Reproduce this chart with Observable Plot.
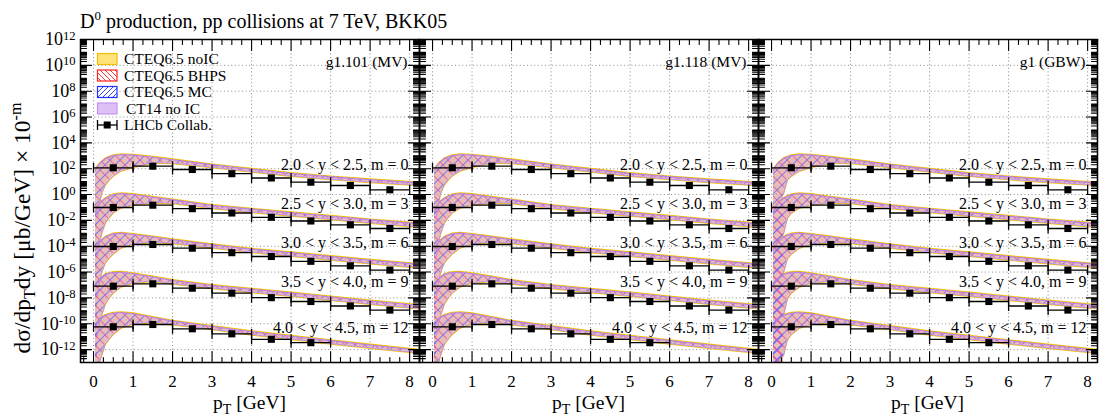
<!DOCTYPE html>
<html>
<head>
<meta charset="utf-8">
<script src="https://cdn.jsdelivr.net/npm/d3@7"></script>
<script src="https://cdn.jsdelivr.net/npm/@observablehq/plot@0.6"></script>
<style>
  html, body { margin: 0; padding: 0; background: #fff; }
  #chart { position: relative; width: 1120px; height: 420px; overflow: hidden; font-family: "Liberation Serif", "Times New Roman", serif; }
  .panel { position: absolute; top: 0; }
  #overlay { position: absolute; left: 0; top: 0; pointer-events: none; }
</style>
</head>
<body>
<div id="chart"></div>
<script>
// ---------------- data ----------------
const chartTitleMain = "D";
const chartTitleSup = "0";
const chartTitleRest = " production, pp collisions at 7 TeV, BKK05";
const panelNames = ["g1.101 (MV)", "g1.118 (MV)", "g1 (GBW)"];
const panelModels = ["MV", "MV", "GBW"];
const seriesNames = ["CTEQ6.5 noIC", "CTEQ6.5 BHPS", "CTEQ6.5 MC", "CT14 no IC", "LHCb Collab."];
const rapidityBins = ["2.0 < y < 2.5", "2.5 < y < 3.0", "3.0 < y < 3.5", "3.5 < y < 4.0", "4.0 < y < 4.5"];
const mValues = [0, 3, 6, 9, 12];

// LHCb measurement, dσ/dpT dy in μb/GeV, pT bins [low, high)
const ptBinLow  = [0, 1, 2, 3, 4, 5, 6, 7];
const ptBinHigh = [1, 2, 3, 4, 5, 6, 7, 8];
const lhcbY20 = [117.5, 156, 86.7, 41.0, 19.1, 9.0, 5.0, 2.33];
const lhcbY25 = [99.3, 150, 80.2, 37.2, 17.3, 8.95, 4.55, 2.35];
const lhcbY30 = [95, 136, 70.3, 31.5, 16.0, 6.8, 3.05, 1.42];
const lhcbY35 = [80.5, 123, 56.4, 23.1, 10.4, 5.26, 2.36, 1.14];
const lhcbY40 = [58, 87.3, 40.6, 16.6, 6.25, 3.41];
const lhcbRows = [lhcbY20, lhcbY25, lhcbY30, lhcbY35, lhcbY40];

// theory bands, log10 of dσ/dpT dy [μb/GeV] sampled on ptGrid
const ptGrid = [0.05, 0.1, 0.15, 0.2, 0.3, 0.4, 0.5, 0.7, 1, 1.5, 2, 3, 4, 5, 6, 7, 8.4];
const mvUpperLog = [
  [1.86, 2.17, 2.36, 2.52, 2.77, 2.90, 3.00, 3.08, 3.05, 2.89, 2.69, 2.30, 1.96, 1.63, 1.37, 1.15, 0.87],
  [1.63, 2.07, 2.28, 2.46, 2.69, 2.85, 2.98, 3.06, 3.00, 2.79, 2.59, 2.15, 1.87, 1.59, 1.32, 1.04, 0.70],
  [1.67, 2.06, 2.29, 2.44, 2.70, 2.84, 2.95, 3.01, 2.91, 2.71, 2.50, 2.11, 1.77, 1.49, 1.20, 0.91, 0.55],
  [1.88, 2.27, 2.46, 2.58, 2.81, 2.90, 2.97, 2.99, 2.87, 2.62, 2.35, 1.96, 1.67, 1.38, 1.07, 0.76, 0.37],
  [1.63, 2.10, 2.37, 2.48, 2.64, 2.74, 2.81, 2.85, 2.77, 2.48, 2.20, 1.79, 1.38, 1.03, 0.69, 0.35, -0.11]
];
const mvLowerLog = [
  [-80, -1.75, -0.69, 0.08, 0.78, 1.17, 1.47, 1.86, 2.13, 2.47, 2.44, 2.12, 1.78, 1.45, 1.19, 0.97, 0.70],
  [-80, -1.72, -0.71, -0.04, 0.84, 1.27, 1.61, 2.00, 2.23, 2.38, 2.35, 1.96, 1.65, 1.38, 1.10, 0.82, 0.47],
  [-80, -1.81, -0.73, -0.03, 0.74, 1.12, 1.44, 1.90, 2.19, 2.33, 2.25, 1.90, 1.55, 1.26, 0.97, 0.68, 0.31],
  [-80, -1.91, -0.90, -0.36, 0.57, 1.03, 1.42, 1.88, 2.19, 2.31, 2.11, 1.77, 1.46, 1.16, 0.85, 0.54, 0.14],
  [-80, -2.01, -1.00, -0.46, 0.45, 0.85, 1.22, 1.71, 2.00, 2.13, 1.96, 1.58, 1.17, 0.82, 0.47, 0.14, -0.30]
];
const gbwLowerLog = [
  [-80, -80, -80, -80, 0.08, 1.16, 1.45, 1.84, 2.12, 2.47, 2.44, 2.12, 1.78, 1.45, 1.19, 0.97, 0.70],
  [-80, -80, -80, -80, -0.04, 1.20, 1.58, 1.98, 2.22, 2.38, 2.35, 1.96, 1.65, 1.38, 1.10, 0.82, 0.47],
  [-80, -80, -80, -80, -0.03, 1.05, 1.42, 1.88, 2.18, 2.33, 2.25, 1.90, 1.55, 1.26, 0.97, 0.68, 0.31],
  [-80, -80, -80, -80, -0.36, 0.95, 1.40, 1.86, 2.18, 2.31, 2.11, 1.77, 1.46, 1.16, 0.85, 0.54, 0.14],
  [-80, -80, -80, -80, -0.46, 0.78, 1.20, 1.69, 1.99, 2.13, 1.96, 1.58, 1.17, 0.82, 0.47, 0.14, -0.30]
];

// axis ticks
const xTickLabels = [0, 1, 2, 3, 4, 5, 6, 7, 8];
const yLabelExponents = [-12, -10, -8, -6, -4, -2, 0, 2, 4, 6, 8, 10, 12];

// ---------------- layout / helpers ----------------
const chart = document.getElementById("chart");
const frames = [[80, 419], [419, 758], [758, 1097]];
const svgBoxes = [{left: 0, width: 430}, {left: 408, width: 362}, {left: 747, width: 373}];
const TOP = 39, BOTTOM = 362, H = 420;
const xDomain = [-0.33, 8.25];
const yDomain = [1e-13, 1e12];
const serif = "'Liberation Serif', 'Times New Roman', serif";

const tickShape = {draw(ctx, l) { ctx.moveTo(0, 0); ctx.lineTo(0, -l); }};
const capSymbol = {draw(ctx, size) { const h = Math.sqrt(size / Math.PI); ctx.moveTo(0, -h); ctx.lineTo(0, h); }};

const xMinorTicks = d3.range(-4, 34).map(i => i * 0.25).filter(v => v % 1 !== 0 && v >= xDomain[0] && v <= xDomain[1]);
const yMajorTicks = yLabelExponents.map(e => 10 ** e);
const yMinorTicks = [];
for (let k = -13; k <= 11; k++) for (let j = 1; j <= 9; j++) {
  if (j === 1 && k % 2 === 0) continue;
  yMinorTicks.push(j * 10 ** k);
}
const yGridVals = yLabelExponents.filter(e => e < 12).map(e => 10 ** e);

const lhcb = [];
lhcbRows.forEach((row, r) => row.forEach((v, j) => lhcb.push({
  row: r, lo: ptBinLow[j], hi: ptBinHigh[j], pt: (ptBinLow[j] + ptBinHigh[j]) / 2, v: v * 10 ** (-mValues[r])
})));

const labelLevels = [211, 190, 170, 166, 45]; // annotation anchors (σ units before 10^-m)
const rowLabels = rapidityBins.map((b, r) => ({text: `${b}, m = ${mValues[r]}`, y: labelLevels[r] * 10 ** (-mValues[r])}));

function tickMarks() {
  const base = {shape: tickShape, anchor: "start", stroke: "black", strokeWidth: 1.1};
  return [
    Plot.vector(xTickLabels, {...base, x: d => d, frameAnchor: "bottom", rotate: 0, length: 11}),
    Plot.vector(xMinorTicks, {...base, x: d => d, frameAnchor: "bottom", rotate: 0, length: 5}),
    Plot.vector(xTickLabels, {...base, x: d => d, frameAnchor: "top", rotate: 180, length: 11}),
    Plot.vector(xMinorTicks, {...base, x: d => d, frameAnchor: "top", rotate: 180, length: 5}),
    Plot.vector(yMajorTicks, {...base, y: d => d, frameAnchor: "left", rotate: 90, length: 11}),
    Plot.vector(yMinorTicks, {...base, y: d => d, frameAnchor: "left", rotate: 90, length: 6}),
    Plot.vector(yMajorTicks, {...base, y: d => d, frameAnchor: "right", rotate: -90, length: 11}),
    Plot.vector(yMinorTicks, {...base, y: d => d, frameAnchor: "right", rotate: -90, length: 6})
  ];
}

function makePanel(i) {
  const lowerLog = panelModels[i] === "GBW" ? gbwLowerLog : mvLowerLog;
  const band = [];
  mValues.forEach((m, r) => ptGrid.forEach((pt, j) => band.push({
    row: r, pt, loLog: lowerLog[r][j], lo: 10 ** (lowerLog[r][j] - m), hi: 10 ** (mvUpperLog[r][j] - m)
  })));
  const lowerEdge = band.filter(d => d.loLog > -20);
  const areaBase = {x: "pt", y1: "lo", y2: "hi", z: "row", clip: true};
  const [fl, fr] = frames[i];
  const box = svgBoxes[i];
  const marks = [
    Plot.gridX(xTickLabels, {stroke: "#8a8a8a", strokeOpacity: 1, strokeWidth: 1, strokeDasharray: "1,2.6"}),
    Plot.gridY(yGridVals, {stroke: "#8a8a8a", strokeOpacity: 1, strokeWidth: 1, strokeDasharray: "1,2.6"}),
    // CTEQ6.5 noIC (yellow)
    Plot.areaY(band, {...areaBase, fill: "#ffcf40"}),
    Plot.line(band, {x: "pt", y: "hi", z: "row", stroke: "#f5c000", strokeWidth: 1.3, dy: -0.8, clip: true}),
    Plot.line(lowerEdge, {x: "pt", y: "lo", z: "row", stroke: "#f5c000", strokeWidth: 1.2, dy: 0.6, clip: true}),
    // CTEQ6.5 BHPS (red hatch), CTEQ6.5 MC (blue hatch)
    Plot.areaY(band, {...areaBase, fill: "url(#hatchRed)"}),
    Plot.areaY(band, {...areaBase, fill: "url(#hatchBlue)"}),
    // CT14 no IC (violet)
    Plot.areaY(band, {...areaBase, fill: "#c68ae6"}),
    Plot.line(band, {x: "pt", y: "hi", z: "row", stroke: "#b980f0", strokeWidth: 1.1, clip: true}),
    Plot.line(lowerEdge, {x: "pt", y: "lo", z: "row", stroke: "#c090f0", strokeWidth: 1, clip: true}),
    // LHCb data
    Plot.ruleY(lhcb, {y: "v", x1: "lo", x2: "hi", stroke: "black", strokeWidth: 1.3}),
    Plot.dot(lhcb, {x: "lo", y: "v", symbol: capSymbol, r: 5, fill: "none", stroke: "black", strokeWidth: 1.3}),
    Plot.dot(lhcb, {x: "hi", y: "v", symbol: capSymbol, r: 5, fill: "none", stroke: "black", strokeWidth: 1.3}),
    Plot.dot(lhcb, {x: "pt", y: "v", symbol: "square", r: 4, fill: "black"}),
    Plot.text(rowLabels, {y: "y", text: "text", frameAnchor: "right", textAnchor: "end", lineAnchor: "middle", dx: -11, fontSize: 16, fill: "black"}),
    Plot.text([panelNames[i]], {text: d => d, frameAnchor: "top-right", textAnchor: "end", lineAnchor: "middle", dx: -12, dy: 23, fontSize: 15.5, fill: "black"}),
    ...tickMarks(),
    Plot.frame({stroke: "black", strokeWidth: 1.5}),
    Plot.axisX(xTickLabels, {anchor: "bottom", tickSize: 0, tickPadding: 12, fontSize: 17, tickFormat: d => String(d)})
  ];
  if (i === 0) {
    marks.push(Plot.axisY(yMajorTicks, {anchor: "left", tickSize: 0, tickPadding: 5, fontSize: 18,
      tickFormat: d => "10^" + Math.round(Math.log10(d))}));
  }
  const svg = Plot.plot({
    width: box.width, height: H,
    marginLeft: fl - box.left, marginRight: box.left + box.width - fr,
    marginTop: TOP, marginBottom: H - BOTTOM,
    x: {domain: xDomain},
    y: {type: "log", domain: yDomain, axis: null},
    style: {background: "transparent", overflow: "visible", fontFamily: serif, fontSize: "15px", color: "black"},
    marks
  });
  // group-level transparency so overlapping rows do not compound (as in the reference)
  const groupOpacity = [0.55, 1, 1, 0.42];
  svg.querySelectorAll('g[aria-label="area"]').forEach((g, k) => {
    g.setAttribute("opacity", groupOpacity[k] ?? 1);
  });
  if (i === 0) {
    d3.select(svg).selectAll('g[aria-label="y-axis tick label"] text').each(function () {
      const s = this.textContent;
      const parts = s.split("^");
      if (parts.length !== 2) return;
      const t = d3.select(this);
      t.text(null);
      t.append("tspan").text(parts[0]);
      t.append("tspan").attr("dy", "-0.45em").attr("font-size", "0.7em").text(parts[1]);
    });
  }
  const div = document.createElement("div");
  div.className = "panel";
  div.style.left = box.left + "px";
  div.style.width = box.width + "px";
  div.appendChild(svg);
  chart.appendChild(div);
}

[0, 1, 2].forEach(makePanel);

// ---------------- overlay: patterns, titles, legend ----------------
const ov = d3.select(chart).append("svg").attr("id", "overlay").attr("width", 1120).attr("height", 420)
  .attr("font-family", serif);
const defs = ov.append("defs");
function hatch(id, d, color, size, width, opacity) {
  const p = defs.append("pattern").attr("id", id).attr("patternUnits", "userSpaceOnUse").attr("width", size).attr("height", size);
  p.append("path").attr("d", d).attr("stroke", color).attr("stroke-width", width).attr("stroke-opacity", opacity).attr("fill", "none");
}
hatch("hatchRed", "M-1,-1 L11,11 M-1,9 L1,11 M9,-1 L11,1", "#ff2a6a", 10, 1.1, 0.75);
hatch("hatchBlue", "M-1,11 L11,-1 M-1,1 L1,-1 M9,11 L11,9", "#3a50ff", 10, 1.1, 0.8);
hatch("legRed", "M-1,-1 L6,6 M-1,4 L1,6 M4,-1 L6,1", "#ff2020", 5, 0.9, 1);
hatch("legBlue", "M-1,6 L6,-1 M-1,1 L1,-1 M4,6 L6,4", "#2030ff", 5, 0.9, 1);

// title
const tt = ov.append("text").attr("x", 80).attr("y", 28).attr("font-size", 20);
tt.append("tspan").text(chartTitleMain);
tt.append("tspan").attr("dy", -8).attr("font-size", 13).text(chartTitleSup);
tt.append("tspan").attr("dy", 8).text(chartTitleRest);

// y axis title
const yt = ov.append("text").attr("transform", "translate(30,228) rotate(-90)").attr("text-anchor", "middle").attr("font-size", 23.5);
yt.append("tspan").text("dσ/dp");
yt.append("tspan").attr("dy", 5).attr("font-size", 16).text("T");
yt.append("tspan").attr("dy", -5).text("dy [μb/GeV] × 10");
yt.append("tspan").attr("dy", -9).attr("font-size", 16).text("-m");

// x axis titles
frames.forEach(([a, b]) => {
  const t = ov.append("text").attr("x", (a + b) / 2).attr("y", 409).attr("text-anchor", "middle").attr("font-size", 19.5);
  t.append("tspan").text("p");
  t.append("tspan").attr("dy", 5).attr("font-size", 14).text("T");
  t.append("tspan").attr("dy", -5).text(" [GeV]");
});

// legend
const legY = [59, 75.5, 92, 108.5, 125];
const legStyles = [
  {fill: "#ffe27a", stroke: "#f0c000"},
  {fill: "url(#legRed)", stroke: "#ff2020"},
  {fill: "url(#legBlue)", stroke: "#2030ff"},
  {fill: "#dfc0f6", stroke: "#c594f2"}
];
seriesNames.forEach((name, k) => {
  const cy = legY[k];
  if (k < 4) {
    ov.append("rect").attr("x", 97.5).attr("y", cy - 5.5).attr("width", 19.5).attr("height", 11)
      .attr("fill", "#fff");
    ov.append("rect").attr("x", 97.5).attr("y", cy - 5.5).attr("width", 19.5).attr("height", 11)
      .attr("fill", legStyles[k].fill).attr("stroke", legStyles[k].stroke).attr("stroke-width", 1.2);
  } else {
    ov.append("line").attr("x1", 97.5).attr("x2", 117).attr("y1", cy).attr("y2", cy).attr("stroke", "black").attr("stroke-width", 1.3);
    ov.append("line").attr("x1", 97.5).attr("x2", 97.5).attr("y1", cy - 5).attr("y2", cy + 5).attr("stroke", "black").attr("stroke-width", 1.3);
    ov.append("line").attr("x1", 117).attr("x2", 117).attr("y1", cy - 5).attr("y2", cy + 5).attr("stroke", "black").attr("stroke-width", 1.3);
    ov.append("rect").attr("x", 103.7).attr("y", cy - 3.5).attr("width", 7).attr("height", 7).attr("fill", "black");
  }
  ov.append("text").attr("x", k === 3 ? 126 : 124).attr("y", cy + 5).attr("font-size", 15.5).text(name);
});
</script>
</body>
</html>
